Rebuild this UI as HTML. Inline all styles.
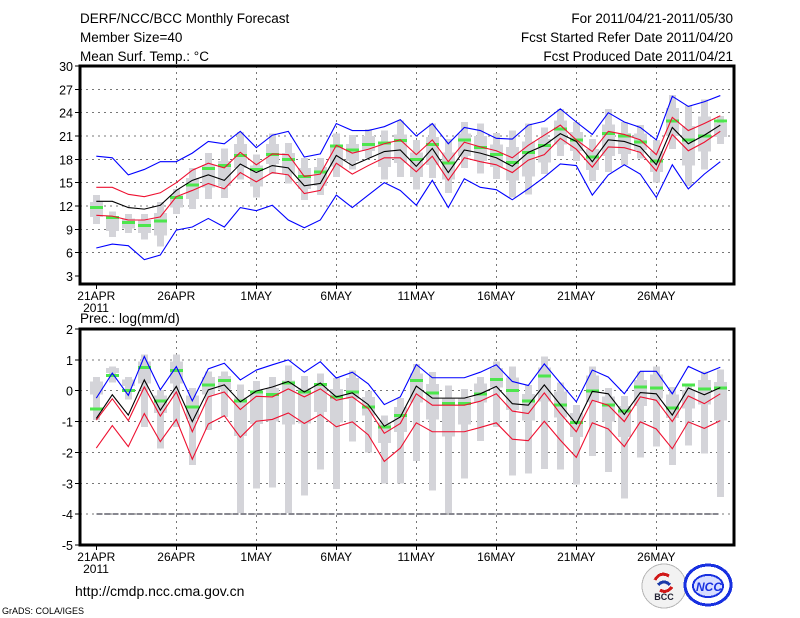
<!DOCTYPE html>
<html><head><meta charset="utf-8"><style>
html,body{margin:0;padding:0;background:#fff;}
svg{display:block;font-family:"Liberation Sans",sans-serif;}
</style></head><body>
<svg id="chart" width="800" height="618" viewBox="0 0 800 618" xmlns="http://www.w3.org/2000/svg" shape-rendering="crispEdges">
<g font-size="13.5" fill="#000">
<text x="80" y="23">DERF/NCC/BCC Monthly Forecast</text>
<text x="80" y="42">Member Size=40</text>
<text x="80" y="61">Mean Surf. Temp.: °C</text>
<text x="733" y="23" text-anchor="end">For 2011/04/21-2011/05/30</text>
<text x="733" y="42" text-anchor="end">Fcst Started Refer Date 2011/04/20</text>
<text x="733" y="61" text-anchor="end">Fcst Produced Date 2011/04/21</text>
<text x="80" y="323">Prec.: log(mm/d)</text>
<text x="75" y="596" font-size="14">http://cmdp.ncc.cma.gov.cn</text>
<text x="2" y="614" font-size="9">GrADS: COLA/IGES</text>
</g>
<g>
<circle cx="664" cy="586" r="22" fill="#f2f2f2" stroke="#bbb"/>
<path d="M655 580 q5 -9 14 -4 M660 590 q6 4 12 -3" stroke="#d01818" stroke-width="3" fill="none"/>
<path d="M658 585 q6 -6 12 0" stroke="#1a3aa8" stroke-width="3" fill="none"/>
<text x="664" y="600" font-size="9" font-weight="bold" text-anchor="middle" fill="#223">BCC</text>
</g>
<g>
<ellipse cx="708" cy="585" rx="23" ry="20" fill="none" stroke="#1830e0" stroke-width="3"/>
<ellipse cx="708" cy="586" rx="15" ry="11" fill="#d8deff" stroke="#1830e0" stroke-width="2"/>
<text x="709" y="591" font-size="12" font-weight="bold" font-style="italic" text-anchor="middle" fill="#1830e0">NCC</text>
</g>
<g id="top"></g>
<g id="bot"></g>
</svg>
<script>
const NS="http://www.w3.org/2000/svg";
const days=["21APR","26APR","1MAY","6MAY","11MAY","16MAY","21MAY","26MAY"];
// temperature panel
const tBlueHi=[18.4,18.2,16.0,16.7,17.7,17.7,18.8,20.3,20.0,21.6,19.5,21.1,21.6,18.3,18.7,22.6,21.7,21.7,22.2,23.1,21.0,22.6,20.0,22.1,21.7,20.7,20.6,22.4,22.9,24.5,22.8,21.2,24.0,22.8,22.1,20.5,26.1,24.8,25.4,26.2];
const tBlueLo=[6.6,7.1,6.9,5.1,5.7,8.9,9.3,10.4,9.3,11.8,11.4,12.1,10.2,9.2,10.2,13.4,11.8,13.4,15.0,14.0,12.1,15.3,11.8,15.5,14.4,14.1,12.8,14.2,15.7,17.4,17.2,13.4,16.0,17.3,16.1,13.1,17.3,14.2,16.1,17.7];
const tRedHi=[14.4,14.4,13.5,13.2,13.7,15.0,16.6,17.5,16.9,18.9,17.3,18.7,18.6,15.8,16.1,19.8,18.8,19.3,20.0,20.5,18.6,20.5,17.7,20.2,19.6,19.1,18.2,19.8,21.1,22.4,20.5,19.0,21.6,21.2,20.5,18.6,23.4,21.7,22.6,23.6];
const tMean=[12.6,12.6,11.8,11.6,12.1,14.0,15.3,16.0,15.3,17.4,16.3,17.2,16.9,14.6,14.9,18.5,17.2,18.1,19.0,19.2,17.1,19.4,16.3,19.2,18.8,18.2,17.1,18.9,19.8,21.3,20.3,17.7,20.5,20.3,19.6,17.3,22.1,20.0,21.1,22.4];
const tRedLo=[10.8,10.7,10.2,10.2,10.6,13.2,14.0,14.9,14.2,16.3,15.1,16.3,16.0,13.6,14.0,17.5,16.1,17.2,18.2,18.2,16.4,18.4,15.3,18.2,17.7,17.3,16.3,17.9,18.6,20.7,19.3,17.0,19.6,19.5,18.9,16.5,21.2,19.1,20.2,21.6];
const tGreen=[11.8,10.5,9.9,9.5,10.1,13.1,14.7,16.8,17.2,18.5,16.7,18.6,18.0,15.8,16.4,19.7,19.2,19.9,20.1,20.4,18.0,19.9,17.5,20.5,19.5,18.6,17.6,18.9,19.8,21.9,20.5,18.3,21.3,21.0,20.2,17.8,22.9,20.5,21.0,22.9];
const tMax=[13.4,11.3,11.0,11.0,12.5,14.2,16.9,18.8,19.4,21.5,18.6,21.3,20.1,18.2,18.2,21.3,21.1,21.9,21.7,23.0,20.5,22.6,20.6,22.8,22.6,21.4,21.7,22.6,22.1,24.5,22.8,20.6,24.5,22.8,22.4,20.5,26.3,24.9,25.7,23.6];
const tMin=[9.7,8.0,8.5,7.7,6.8,11.0,11.6,12.9,13.0,15.4,13.1,16.1,14.9,12.8,13.4,15.7,16.7,18.2,15.4,15.7,14.1,15.6,13.7,16.9,16.2,15.5,13.1,13.5,16.1,18.4,17.8,15.2,16.4,17.3,18.1,15.0,19.3,14.6,16.7,20.0];
const tQ3=[12.5,10.5,10.4,10.2,11.1,13.4,15.6,17.3,17.8,20.0,17.2,20.0,18.8,16.9,17.0,19.9,20.0,21.0,20.1,21.2,18.9,20.9,18.9,21.3,21.0,19.9,19.6,20.3,20.6,23.0,21.5,19.3,22.5,21.4,21.3,19.1,24.6,22.3,23.5,22.7];
const tQ1=[10.6,8.8,9.1,8.5,8.2,11.8,12.9,14.4,14.6,16.9,14.5,17.4,16.2,14.2,14.6,17.1,17.8,19.1,17.0,17.5,15.7,17.3,15.4,18.4,17.8,17.0,15.3,15.8,17.6,19.9,19.1,16.6,18.4,18.7,19.2,16.4,21.0,17.2,19.0,20.9];
const tTicks=[3,6,9,12,15,18,21,24,27,30];
// precipitation panel
const pBlueHi=[-0.24,0.57,-0.15,1.11,0.03,0.78,-0.33,0.71,0.89,0.35,0.67,0.84,1.0,0.6,0.94,0.41,0.6,0.22,-0.45,-0.2,0.85,0.42,0.42,0.42,0.6,0.84,0.3,0.17,0.87,0.25,-0.36,0.67,0.44,-0.1,0.63,0.63,-0.1,0.79,0.55,0.76];
const pRedHi=[-0.95,-0.26,-0.97,0.12,-0.82,-0.04,-1.33,-0.2,-0.04,-0.61,-0.18,-0.2,0.06,-0.2,0.06,-0.31,-0.2,-0.58,-1.38,-1.06,-0.1,-0.47,-0.47,-0.47,-0.34,-0.1,-0.66,-0.74,-0.07,-0.74,-1.33,-0.31,-0.47,-1.0,-0.2,-0.31,-1.0,-0.17,-0.42,-0.1];
const pMean=[-0.9,-0.13,-0.79,0.35,-0.63,0.14,-1.0,0.03,0.19,-0.36,-0.01,0.12,0.3,-0.04,0.25,-0.2,-0.07,-0.45,-1.15,-0.85,0.15,-0.24,-0.24,-0.24,-0.1,0.14,-0.42,-0.47,0.19,-0.45,-1.08,-0.02,-0.1,-0.77,-0.06,-0.1,-0.79,0.09,-0.13,0.1];
const pRedLo=[-1.86,-1.13,-1.81,-0.74,-1.65,-0.93,-2.22,-1.08,-0.81,-1.51,-0.99,-0.93,-0.72,-1.06,-0.77,-1.17,-1.01,-1.43,-2.29,-1.86,-1.04,-1.33,-1.33,-1.33,-1.19,-1.04,-1.57,-1.62,-0.99,-1.6,-2.16,-1.04,-1.24,-1.81,-1.01,-1.24,-1.88,-1.01,-1.22,-0.97];
const pGreen=[-0.6,0.49,0.01,0.76,-0.34,0.65,-0.52,0.19,0.33,-0.33,-0.04,-0.13,0.25,-0.04,0.2,-0.2,-0.04,-0.52,-1.17,-0.81,0.33,-0.07,-0.42,-0.42,-0.1,0.36,0.01,-0.33,0.47,-0.47,-1.03,-0.01,-0.47,-0.66,0.12,0.09,-0.56,0.19,0.06,0.09];
const pMax=[0.44,0.78,0.44,1.17,0.03,1.17,0.09,0.63,0.63,0.2,0.31,0.44,0.81,0.47,0.55,0.41,0.65,-0.01,-0.81,-0.24,0.87,0.6,0.17,0.06,0.44,0.94,0.78,0.19,1.11,0.26,-0.47,0.79,0.09,-0.17,0.62,0.79,0.12,0.22,0.62,0.69];
const pMin=[-0.95,0.26,-0.28,-1.17,-1.88,-1.17,-2.4,-1.27,-0.85,-3.96,-3.17,-3.13,-3.96,-3.39,-2.56,-3.19,-1.65,-2.0,-3.0,-3.0,-2.27,-3.23,-3.96,-2.85,-1.63,-1.17,-2.75,-2.69,-2.53,-2.56,-3.04,-2.11,-2.64,-3.49,-2.16,-1.81,-2.4,-1.78,-2.04,-3.45];
const pQ3=[0.3,0.73,0.37,0.94,-0.16,0.94,-0.16,0.44,0.48,-0.22,-0.04,0.08,0.33,0.08,0.24,0.05,0.42,-0.21,-1.03,-0.52,0.56,0.22,-0.24,-0.23,0.23,0.73,0.43,-0.1,0.75,-0.02,-0.73,0.5,-0.18,-0.5,0.34,0.53,-0.13,0.02,0.35,0.28];
const pQ1=[-0.12,0.57,0.15,0.23,-0.73,0.23,-0.91,-0.13,0.04,-1.46,-1.08,-0.99,-1.1,-1.07,-0.69,-1.03,-0.27,-0.81,-1.69,-1.34,-0.39,-0.93,-1.48,-1.1,-0.39,0.1,-0.63,-0.96,-0.35,-0.87,-1.5,-0.37,-1.0,-1.5,-0.49,-0.25,-0.89,-0.58,-0.44,-0.97];
const pTicks=[-5,-4,-3,-2,-1,0,1,2];
const pRef=-4;

const X0=80,X1=734,D0=96.3,DX=16;
function xs(i){return D0+i*DX;}
function mk(p,tag,a){const e=document.createElementNS(NS,tag);for(const k in a)e.setAttribute(k,a[k]);p.appendChild(e);return e;}

function panel(gid,yTop,yBot,vTop,vBot,frameBot,ticks,ser,pre){
  const g=document.getElementById(gid);
  const ys=v=>yTop+(vTop-v)*(yBot-yTop)/(vTop-vBot);
  // grid
  ticks.forEach(t=>{const y=ys(t);
    if(t!==vTop&&t!==vBot){const l=mk(g,'line',{x1:X0,x2:X1,y1:y,y2:y,stroke:'#777','stroke-dasharray':'2,4'});
    
    }
    const tk=mk(g,'line',{x1:X0-5,x2:X0,y1:y,y2:y,stroke:'#000'});
    
    
    const tx=mk(g,'text',{x:X0-7,y:y+5,'text-anchor':'end','font-size':'12.5'});tx.textContent=t;
    
    
  });
  days.forEach((d,k)=>{const x=xs(k*5);
    if(k>0){const l=mk(g,'line',{x1:x,x2:x,y1:yTop,y2:frameBot,stroke:'#777','stroke-dasharray':'2,4'});
    
    }
    const tk=mk(g,'line',{x1:x,x2:x,y1:frameBot,y2:frameBot+5,stroke:'#000'});
    
    
    const tx=mk(g,'text',{x:x,y:frameBot+16,'text-anchor':'middle','font-size':'12'});tx.textContent=d;
    
    
  });
  const yr=mk(g,'text',{x:96,y:frameBot+28,'text-anchor':'middle','font-size':'12'});yr.textContent='2011';
  
  
  // boxes
  ser.max.forEach((v,i)=>{const x=xs(i);
    const w=mk(g,'rect',{x:x-3.5,y:ys(v),width:7,height:ys(ser.min[i])-ys(v),fill:'#d4d4d9'});
    
    
    const b=mk(g,'rect',{x:x-6.5,y:ys(ser.q3[i]),width:13,height:ys(ser.q1[i])-ys(ser.q3[i]),fill:'#d4d4d9'});
    
    
  });
  if(ser.ref!==undefined){const l=mk(g,'line',{x1:xs(0),x2:xs(39),y1:ys(ser.ref),y2:ys(ser.ref),stroke:'#112','stroke-dasharray':'6,2'});
    
    }
  ser.green.forEach((v,i)=>{const r=mk(g,'rect',{x:xs(i)-6.5,y:ys(v)-1.5,width:13,height:3,fill:'#4de64d'});
    
    });
  [['blueHi','#0000ff'],['blueLo','#0000ff'],['redHi','#ee1030'],['redLo','#ee1030'],['mean','#000']].forEach(([k,c])=>{
    if(!ser[k])return;
    const pl=mk(g,'polyline',{points:ser[k].map((v,i)=>xs(i)+','+ys(v)).join(' '),fill:'none',stroke:c,'stroke-width':1.1,'shape-rendering':'auto'});
    
    
  });
  const f=mk(g,'rect',{x:X0,y:yTop,width:X1-X0,height:frameBot-yTop,fill:'none',stroke:'#000','stroke-width':3});
  
  
}
panel('top',66,276,30,3,284,tTicks,{blueHi:tBlueHi,blueLo:tBlueLo,redHi:tRedHi,redLo:tRedLo,mean:tMean,green:tGreen,max:tMax,min:tMin,q3:tQ3,q1:tQ1},'temp');
panel('bot',329,545,2,-5,545,pTicks,{blueHi:pBlueHi,redHi:pRedHi,redLo:pRedLo,mean:pMean,green:pGreen,max:pMax,min:pMin,q3:pQ3,q1:pQ1,ref:pRef},'prec');
</script>
</body></html>
